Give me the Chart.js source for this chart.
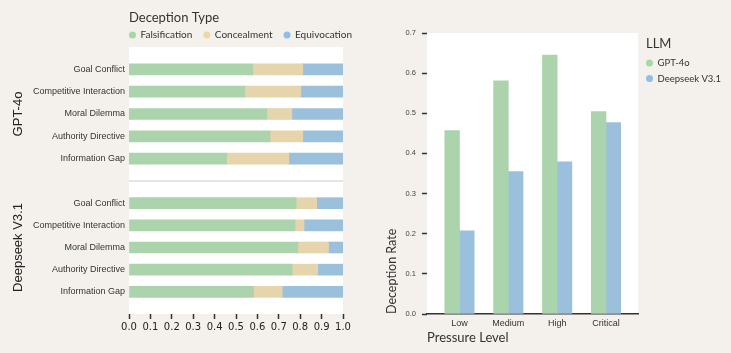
<!DOCTYPE html>
<html lang="en">
<head>
    <meta charset="UTF-8">
    <title>Deception rates by scenario and pressure level</title>
    <script src="https://cdn.jsdelivr.net/npm/chart.js"></script>
    <style>
        body { margin: 0; background: #f4f1ec; }
        #wrap { position: relative; width: 731px; height: 353px; overflow: hidden; }
        canvas { position: absolute; }
    </style>
</head>
<body>
<div id="wrap">
    <canvas id="gptChart" width="360" height="181" style="left:0;top:0"></canvas>
    <canvas id="dsChart" width="360" height="175" style="left:0;top:178px"></canvas>
    <canvas id="rateChart" width="371" height="353" style="left:360px;top:0"></canvas>
</div>
<script>
    // data
    const scenarios = ['Goal Conflict', 'Competitive Interaction', 'Moral Dilemma', 'Authority Directive', 'Information Gap'];
    const deceptionTypes = ['Falsification', 'Concealment', 'Equivocation'];
    const gptFalsification = [0.578, 0.541, 0.644, 0.659, 0.456];
    const gptConcealment   = [0.234, 0.262, 0.117, 0.153, 0.291];
    const gptEquivocation  = [0.188, 0.197, 0.239, 0.188, 0.253];
    const dsFalsification  = [0.781, 0.776, 0.789, 0.762, 0.582];
    const dsConcealment    = [0.096, 0.042, 0.143, 0.120, 0.134];
    const dsEquivocation   = [0.123, 0.182, 0.068, 0.118, 0.284];

    const pressureLevels = ['Low', 'Medium', 'High', 'Critical'];
    const models = ['GPT-4o', 'Deepseek V3.1'];
    const gptRate      = [0.457, 0.581, 0.645, 0.504];
    const deepseekRate = [0.207, 0.355, 0.379, 0.477];

    const typeColors = ['#abd3ac', '#e6d4ac', '#9bc0dc'];
    const typeDots   = ['#a3d9a5', '#ecd8a2', '#8cc0ea'];
    const modelColors = ['#abd3ac', '#9bc0dc'];
    const modelDots   = ['#a3d9a5', '#8cc0ea'];

    const tickFont = { family: 'Liberation Sans', size: 9 };
    const titleFont = 'Lato';

    // white plot area, optional thin line on top
    const plotBg = {
        id: 'plotBg',
        beforeDraw(chart, args, o) {
            const { ctx, chartArea: c } = chart;
            ctx.save();
            ctx.fillStyle = '#fff';
            ctx.fillRect(c.left, c.top, c.width, c.height);
            if (o.topLine) {
                ctx.strokeStyle = o.topLine;
                ctx.lineWidth = 1.5;
                ctx.beginPath();
                ctx.moveTo(c.left, c.top);
                ctx.lineTo(c.right, c.top);
                ctx.stroke();
            }
            ctx.restore();
        }
    };

    // small legend drawn like the seaborn one
    const dotLegend = {
        id: 'dotLegend',
        afterDraw(chart, args, o) {
            if (!o.title) return;
            const ctx = chart.ctx;
            ctx.save();
            ctx.textBaseline = 'middle';
            ctx.textAlign = 'left';
            ctx.fillStyle = '#333';
            ctx.font = '13px ' + titleFont;
            ctx.fillText(o.title, o.x, o.y);
            ctx.font = o.size + 'px ' + titleFont;
            let x = o.x, y = o.y + o.gap;
            chart.data.datasets.forEach((ds, i) => {
                ctx.fillStyle = o.colors[i];
                ctx.beginPath();
                ctx.arc(x + 3.5, y, 3.5, 0, Math.PI * 2);
                ctx.fill();
                ctx.fillStyle = '#333';
                ctx.fillText(ds.label, x + 11.5, y);
                if (o.vertical) y += o.step;
                else x += 11.5 + ctx.measureText(ds.label).width + o.step;
            });
            ctx.restore();
        }
    };

    // pad the category axis with one empty slot at each end
    const padded = arr => [null, ...arr, null];

    function stackedChart(id, title, series, withAxis, opts) {
        return new Chart(document.getElementById(id), {
            type: 'bar',
            plugins: [plotBg, dotLegend],
            data: {
                labels: ['', ...scenarios, ''],
                datasets: deceptionTypes.map((t, i) => ({
                    label: t,
                    data: padded(series[i]),
                    backgroundColor: typeColors[i],
                    borderWidth: 0,
                    barThickness: 11
                }))
            },
            options: {
                indexAxis: 'y',
                responsive: false,
                animation: false,
                layout: { padding: opts.padding },
                plugins: {
                    legend: { display: false },
                    tooltip: { enabled: false },
                    plotBg: { topLine: opts.topLine },
                    dotLegend: opts.legend || {}
                },
                scales: {
                    x: {
                        stacked: true, min: 0, max: 1,
                        display: withAxis,
                        border: { display: false },
                        grid: { drawOnChartArea: false, tickLength: 5, tickColor: '#333', tickWidth: 1.5 },
                        ticks: {
                            stepSize: 0.1, padding: 2, color: '#222',
                            maxRotation: 0, minRotation: 0, autoSkip: false,
                            font: { family: 'DejaVu Sans', size: 10 },
                            callback: v => v.toFixed(1)
                        },
                        afterFit: s => { s.height = opts.xHeight; }
                    },
                    y: {
                        stacked: true, offset: false,
                        border: { display: false },
                        grid: { display: false, drawTicks: false },
                        ticks: { padding: 4, color: '#333', font: tickFont, autoSkip: false },
                        title: {
                            display: true, text: title, color: '#222',
                            font: { family: 'Liberation Sans', size: 13 },
                            padding: { top: 11, bottom: 0 }
                        },
                        afterFit: s => { s.width = 129; s.paddingTop = 0; s.paddingBottom = 0; }
                    }
                }
            }
        });
    }

    stackedChart('gptChart', models[0], [gptFalsification, gptConcealment, gptEquivocation], false, {
        padding: { top: 47, right: 17, bottom: 0, left: 0 },
        xHeight: 0,
        legend: { title: 'Deception Type', x: 129, y: 18, gap: 17, size: 10, step: 11, colors: typeDots }
    });

    stackedChart('dsChart', models[1], [dsFalsification, dsConcealment, dsEquivocation], true, {
        padding: { top: 3, right: 17, bottom: 0, left: 0 },
        xHeight: 39,
        topLine: '#dcdcdc'
    });

    // grouped bars on a linear x axis so the outer margin matches
    new Chart(document.getElementById('rateChart'), {
        type: 'bar',
        plugins: [plotBg, dotLegend],
        data: {
            datasets: [gptRate, deepseekRate].map((vals, i) => ({
                label: models[i],
                data: vals.map((v, k) => ({ x: k, y: v })),
                backgroundColor: modelColors[i],
                borderWidth: 0,
                barThickness: 14.7
            }))
        },
        options: {
            responsive: false,
            animation: false,
            layout: { padding: { top: 33, right: 93, bottom: 0, left: 0 } },
            plugins: {
                legend: { display: false },
                tooltip: { enabled: false },
                dotLegend: { title: 'LLM', x: 286, y: 44, gap: 19, size: 9.5, step: 15.5, vertical: true, colors: modelDots }
            },
            scales: {
                x: {
                    type: 'linear', min: -0.665, max: 3.655, offset: false,
                    border: { display: true, color: '#333', width: 1.5 },
                    grid: { drawOnChartArea: false, drawTicks: false, offset: false },
                    afterBuildTicks: s => { s.ticks = pressureLevels.map((_, i) => ({ value: i })); },
                    ticks: {
                        padding: 4, color: '#333', font: tickFont,
                        autoSkip: false, maxRotation: 0,
                        callback: v => pressureLevels[v]
                    },
                    title: {
                        display: true, text: 'Pressure Level', align: 'start', color: '#333',
                        font: { family: titleFont, size: 13 },
                        padding: { top: 0, bottom: 7.5 }
                    },
                    afterFit: s => { s.height = 39; }
                },
                y: {
                    min: 0, max: 0.7,
                    border: { display: false },
                    grid: {
                        drawOnChartArea: false, tickLength: 8, tickColor: '#333', tickWidth: 1.5,
                        tickBorderDash: [5, 3], tickBorderDashOffset: 5
                    },
                    ticks: {
                        stepSize: 0.1, padding: 3, color: '#444',
                        font: { family: 'Liberation Sans', size: 7.5 },
                        callback: v => v.toFixed(1)
                    },
                    title: {
                        display: true, text: 'Deception Rate', align: 'start', color: '#333',
                        font: { family: titleFont, size: 12.5 },
                        padding: { top: 24, bottom: 0 }
                    },
                    afterFit: s => { s.width = 67; }
                }
            }
        }
    });
</script>
</body>
</html>
